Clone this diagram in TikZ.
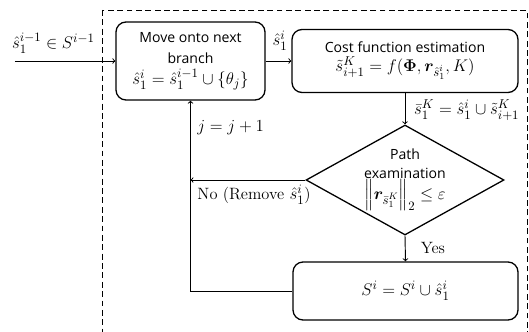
\documentclass[tikz,border=0pt]{standalone}
\usepackage{amsmath,bm}
\usepackage{fontspec}
\setsansfont{Open Sans}
\usetikzlibrary{shapes.geometric}
% formulas a little larger than the surrounding text
\DeclareMathSizes{12}{14}{10.5}{8}
\DeclareMathSizes{14}{14}{10.5}{8}
\begin{document}
\begin{tikzpicture}[
  every node/.style={font=\fontsize{14}{16}\selectfont},
  procbox/.style={draw, line width=1.1pt, rounded corners=0.3cm, align=center, inner sep=0pt,
    font=\fontsize{12}{16}\selectfont\sffamily},
  decision/.style={draw, diamond, line width=1.1pt, inner sep=0pt, minimum width=5.94cm, minimum height=3.3cm},
  flow/.style={->, line width=0.8pt}
]
\useasboundingbox (0,0) rectangle (15.87,-9.96);
% dashed frame round the search loop
\draw[line width=0.8pt, dash pattern=on 5pt off 3pt] (3.06,-0.3) rectangle (15.81,-10.5);

\node[procbox, font=\fontsize{12}{18}\selectfont\sffamily, minimum width=4.47cm, minimum height=2.34cm] (branch) at (5.715,-1.83) {Move onto next\\branch\\$\hat{s}_1^i=\hat{s}_1^{i-1}\cup\{\theta_j\}$};
\node[procbox, minimum width=6.78cm, minimum height=1.89cm] (cost) at (12.15,-1.83) {Cost function estimation\\$\tilde{s}_{i+1}^K=f(\bm{\Phi},\bm{r}_{\hat{s}_1^i},K)$};
\node[decision, label={[align=center, font=\fontsize{12}{16}\selectfont\sffamily]center:{Path\\examination\\$\left\|\bm{r}_{\bar{s}_1^K}\right\|_2\le\varepsilon$}}] (check) at (12.15,-5.4) {};
\node[procbox, minimum width=6.75cm, minimum height=1.74cm] (update) at (12.165,-8.73) {$S^i=S^i\cup\hat{s}_1^i$};

\coordinate (start) at (0.45,-1.83);
\draw[flow] (start) -- (branch.west);
\draw[flow] (branch.east) -- (cost.west);
\draw[flow] (cost.south) -- (check.north);
\draw[flow] (check.south) -- (update.north);
\draw[flow] (check.west) -- (check.west -| branch.south);
\draw[flow] (update.west) -| (branch.south);

% edge labels
\node (inlbl) at (1.6,-1.3) {$\hat{s}_1^{i-1}\in S^{i-1}$};
\node (outlbl) at (8.4,-1.22) {$\hat{s}_1^i$};
\node[anchor=west] (unionlbl) at (12.3,-3.3) {$\bar{s}_1^K=\hat{s}_1^i\cup\tilde{s}_{i+1}^K$};
\node[anchor=west] (inclbl) at (5.8,-3.84) {$j=j+1$};
\node[anchor=west] (nolbl) at (5.8,-5.85) {No (Remove $\hat{s}_1^i$)};
\node[anchor=west] (yeslbl) at (12.5,-7.44) {Yes};
\end{tikzpicture}
\end{document}
